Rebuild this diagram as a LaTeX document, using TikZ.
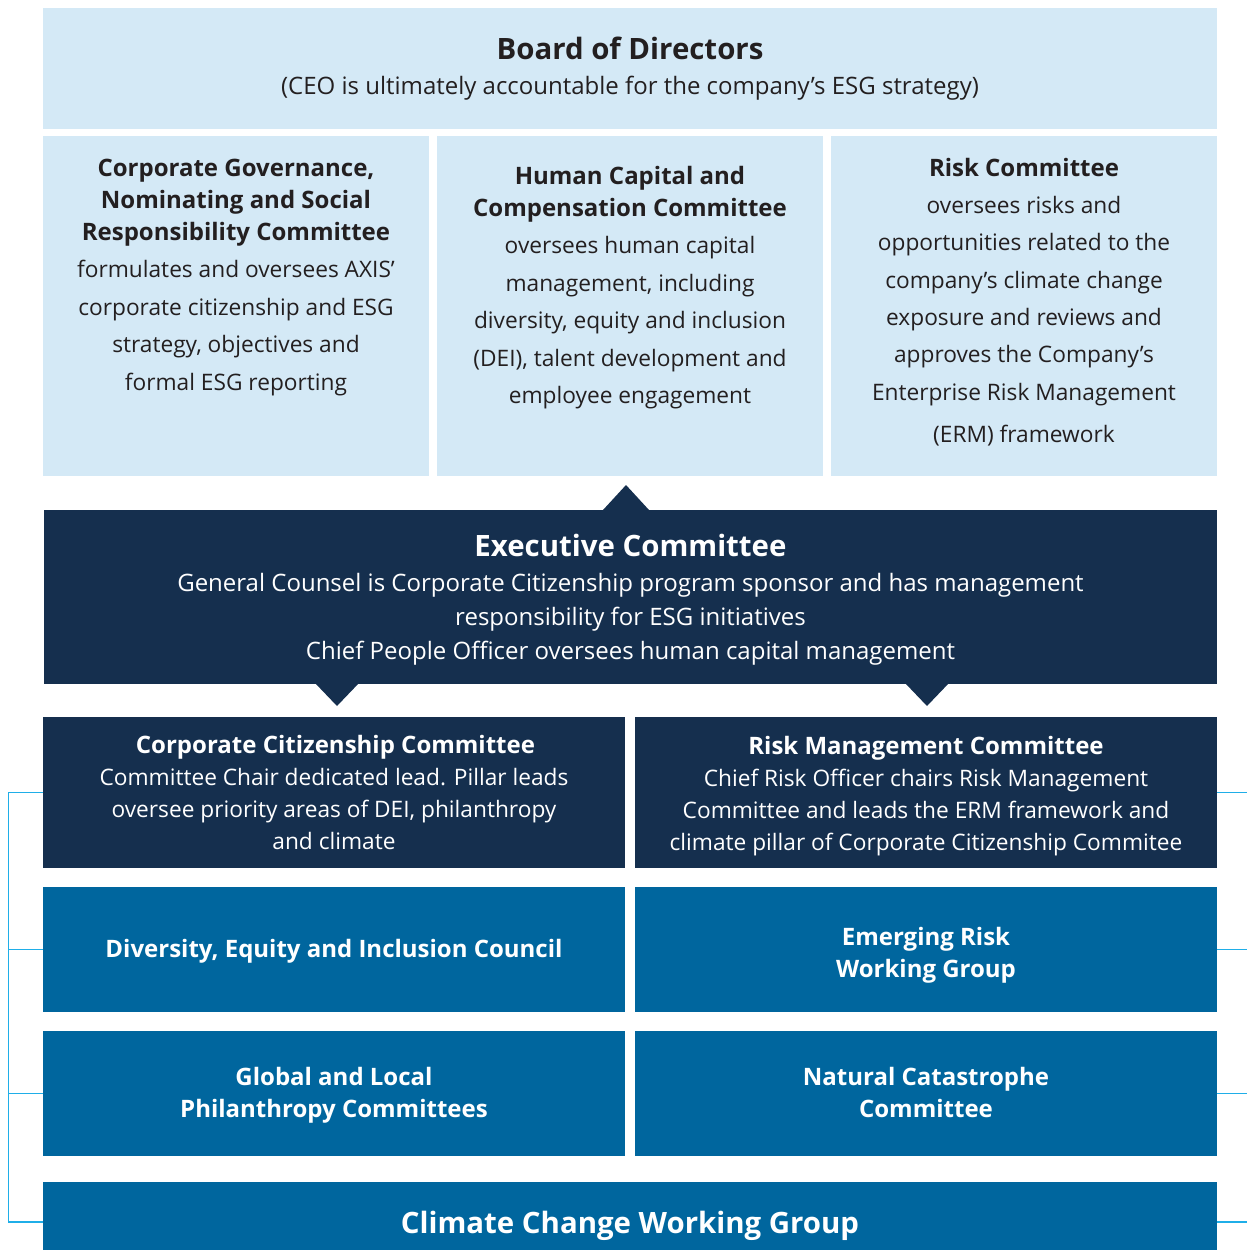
\documentclass[tikz,border=0pt]{standalone}
\usepackage{fontspec}
\setmainfont{Open Sans}
\definecolor{lightbg}{HTML}{D4E9F6}
\definecolor{navy}{HTML}{152F4E}
\definecolor{midblue}{HTML}{00669E}
\definecolor{conncol}{HTML}{1FAEE8}
\definecolor{txtdark}{HTML}{231F20}
\newcommand{\ttlfont}{\fontsize{24}{32}\selectfont\bfseries}
\newcommand{\bodyfont}{\fontsize{22.7}{32}\selectfont}
\newcommand{\combody}{\fontsize{22.7}{37.5}\selectfont}
\newcommand{\combodyb}{\fontsize{22.7}{37.3}\selectfont}
\newcommand{\bigttl}{\fontsize{29.4}{36}\selectfont\bfseries}
\newcommand{\cbox}[2]{\parbox{#1}{\centering #2\par}}
\newcommand{\sdown}[2]{\raisebox{-#1}[\height][\depth]{#2}}
\begin{document}
\begin{tikzpicture}[x=1pt,y=-1pt,
  box/.style={rectangle, inner sep=0pt, outer sep=0pt},
  lightbox/.style={box, fill=lightbg, text=txtdark},
  navybox/.style={box, fill=navy, text=white},
  bluebox/.style={box, fill=midblue, text=white},
  ctext/.style={inner sep=0pt, outer sep=0pt, text=txtdark, anchor=north},
  conn/.style={draw=conncol, line width=1.5pt},
  tri/.style={fill=navy}
]
\useasboundingbox (0,0) rectangle (1247,1250);

% Board
\node[lightbox, minimum width=1174pt, minimum height=121pt] (board) at (630,68.5)
 {\sdown{0.5pt}{\cbox{1100pt}{{\bigttl Board of Directors\par}\fontsize{24}{35}\selectfont (CEO is ultimately accountable for the company’s ESG strategy)}}};

% Committees
\node[lightbox, minimum width=386pt, minimum height=340pt] (cg) at (236,306) {};
\node[lightbox, minimum width=386pt, minimum height=340pt] (hc) at (630,306) {};
\node[lightbox, minimum width=386pt, minimum height=340pt] (rc) at (1024,306) {};

\node[ctext] (cgt) at (236,159) {\cbox{380pt}{{\ttlfont Corporate Governance,\\ Nominating and Social\\ Responsibility Committee\par}
 \combody formulates and oversees AXIS’\\ corporate citizenship and ESG\\ strategy, objectives and\\ formal ESG reporting}};
\node[ctext] (hct) at (630,166) {\cbox{380pt}{{\ttlfont Human Capital and\\ Compensation Committee\par}
 \combody oversees human capital\\ management, including\\ diversity, equity and inclusion\\ (DEI), talent development and\\ employee engagement}};
\node[ctext] (rct) at (1024,158) {\cbox{380pt}{{\ttlfont Risk Committee\par}
 \combodyb oversees risks and\\ opportunities related to the\\ company’s climate change\\ exposure and reviews and\\ approves the Company’s\\ Enterprise Risk Management\par\vspace{5pt}(ERM) framework}};

% Executive committee
\node[navybox, minimum width=1173pt, minimum height=174pt] (ex) at (630.5,597)
 {\sdown{3pt}{\cbox{1150pt}{{\bigttl Executive Committee\par}\vspace{1pt}
  \fontsize{24}{34}\selectfont General Counsel is Corporate Citizenship program sponsor and has management\\
  responsibility for ESG initiatives\\ Chief People Officer oversees human capital management}}};
\fill[tri] (603,510) -- (626,485) -- (649,510) -- cycle;
\fill[tri] (315,683) -- (337,706) -- (359,683) -- cycle;
\fill[tri] (905,683) -- (927,706) -- (949,683) -- cycle;

% Lower boxes
\node[navybox, minimum width=582pt, minimum height=151pt] (cc) at (334,792.5)
 {\cbox{570pt}{\hspace*{3pt}{\ttlfont Corporate Citizenship Committee\par}
  \bodyfont Committee Chair dedicated lead. Pillar leads\\ oversee priority areas of DEI, philanthropy\\ and climate}};
\node[navybox, minimum width=582pt, minimum height=151pt] (rm) at (926,792.5)
 {\sdown{3.5pt}{\cbox{570pt}{{\ttlfont Risk Management Committee\par}
  \bodyfont Chief Risk Officer chairs Risk Management\\ Committee and leads the ERM framework and\\ climate pillar of Corporate Citizenship Commitee}}};

\node[bluebox, minimum width=582pt, minimum height=125pt] (dei) at (334,949.5)
 {\sdown{2pt}{\cbox{570pt}{\ttlfont Diversity, Equity and Inclusion Council}}};
\node[bluebox, minimum width=582pt, minimum height=125pt] (erw) at (926,949.5)
 {\sdown{6pt}{\cbox{570pt}{\ttlfont Emerging Risk\\ Working Group}}};
\node[bluebox, minimum width=582pt, minimum height=125pt] (glp) at (334,1093.5)
 {\sdown{2pt}{\cbox{570pt}{\ttlfont Global and Local\\ Philanthropy Committees}}};
\node[bluebox, minimum width=582pt, minimum height=125pt] (ncc) at (926,1093.5)
 {\sdown{-1pt}{\cbox{570pt}{\ttlfont Natural Catastrophe\\ Committee}}};
\node[bluebox, minimum width=1174pt, minimum height=80pt] (ccw) at (630,1222)
 {\sdown{4pt}{\bigttl Climate Change Working Group}};

% Connectors
\coordinate (lx) at (8.5,0);
\coordinate (rx) at (1247,0);
\draw[conn] (cc.west) -- (cc.west -| lx) -- (ccw.west -| lx) -- (ccw.west);
\draw[conn] (dei.west) -- (dei.west -| lx);
\draw[conn] (glp.west) -- (glp.west -| lx);
\draw[conn] (rm.east) -- (rm.east -| rx);
\draw[conn] (erw.east) -- (erw.east -| rx);
\draw[conn] (ncc.east) -- (ncc.east -| rx);
\draw[conn] (ccw.east) -- (ccw.east -| rx);
\end{tikzpicture}
\end{document}
